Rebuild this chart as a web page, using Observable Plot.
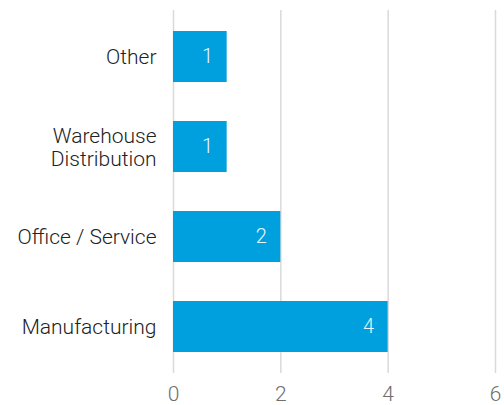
<!DOCTYPE html>
<html><head><meta charset="utf-8">
<script src="https://cdn.jsdelivr.net/npm/d3@7"></script>
<script src="https://cdn.jsdelivr.net/npm/@observablehq/plot@0.6"></script>
<style>body{margin:0;background:#fff;} svg{display:block;}</style>
</head><body><div id="chart"></div>
<script>
const categories = ["Other", "Warehouse\nDistribution", "Office / Service", "Manufacturing"];
const values = [1, 1, 2, 4];
const xTicks = [0, 2, 4, 6];

const data = categories.map((c, i) => ({category: c, value: values[i]}));

const chart = Plot.plot({
  width: 504,
  height: 405,
  marginLeft: 173,
  marginRight: 9,
  marginTop: 10,
  marginBottom: 32,
  style: {fontFamily: "Roboto, 'Open Sans', sans-serif", fontWeight: 300, background: "#fff"},
  x: {domain: [0, 6], ticks: xTicks, label: null},
  y: {domain: categories, label: null, paddingInner: 0.43, paddingOuter: 0.22},
  marks: [
    Plot.gridX(xTicks, {stroke: "#d9d9d9", strokeWidth: 1.5, strokeOpacity: 1}),
    Plot.barX(data, {x: "value", y: "category", fill: "#00a0df"}),
    Plot.text(data, {x: "value", y: "category", text: d => String(d.value), textAnchor: "end", dx: -14, fill: "#e8f6fc", fontSize: 20, fontWeight: 300}),
    Plot.axisX(xTicks, {tickSize: 0, tickPadding: 13, fontSize: 21, fill: "#6e6e6e", fontWeight: 300}),
    Plot.axisY({tickSize: 0, tickPadding: 17, fontSize: 21, fill: "#222", fontWeight: 300, lineHeight: 1.08})
  ]
});
document.getElementById("chart").appendChild(chart);
</script></body></html>
